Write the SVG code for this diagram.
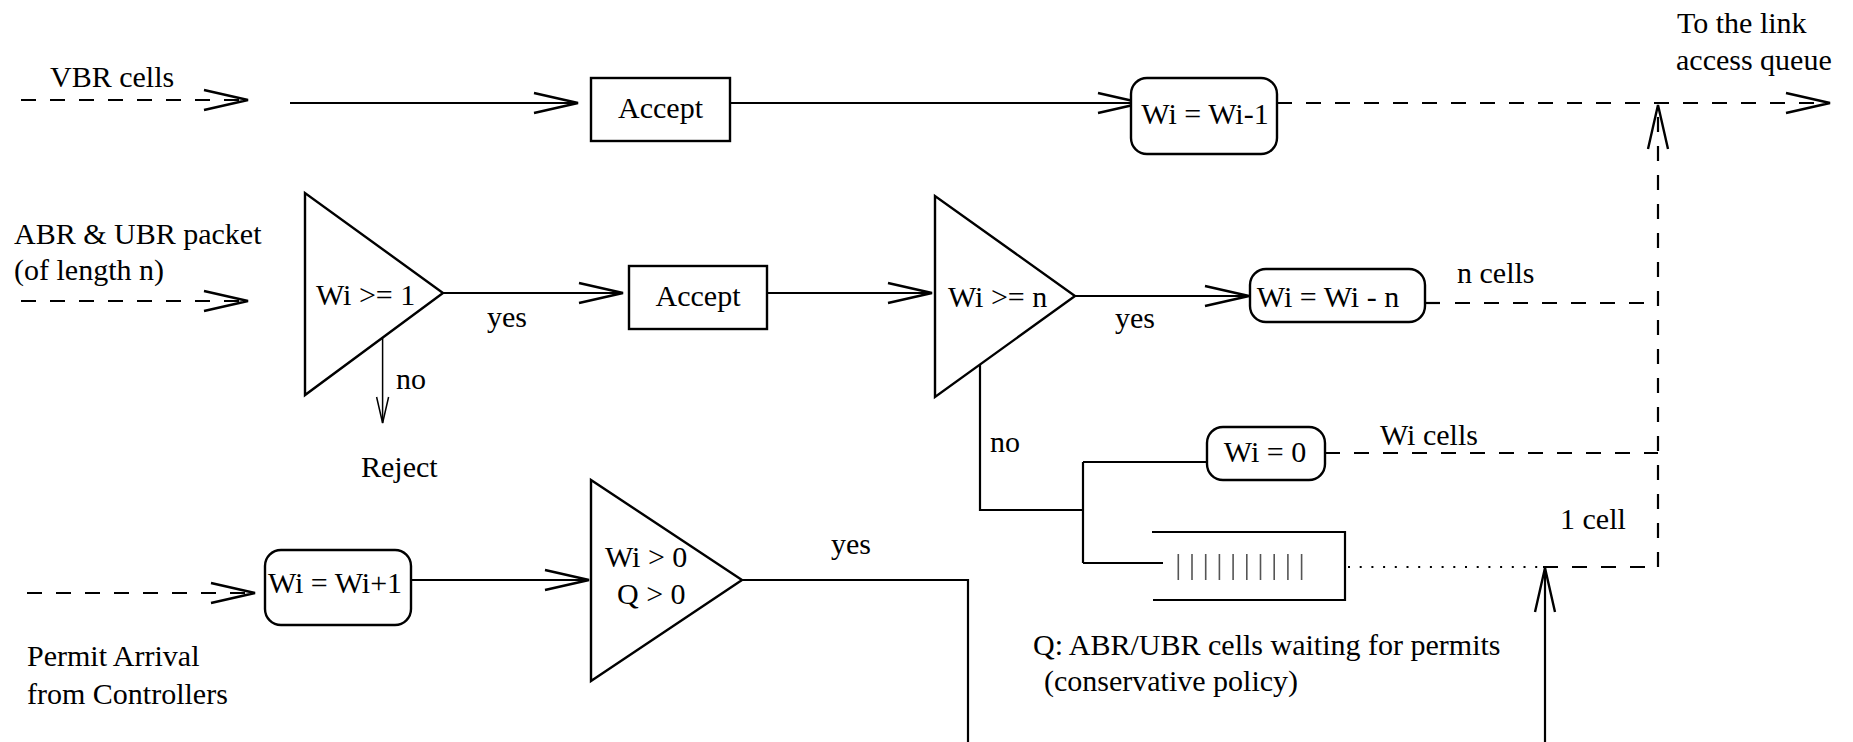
<svg xmlns="http://www.w3.org/2000/svg" width="1853" height="742" viewBox="0 0 1853 742">
<style>
.l{fill:none;stroke:#000;stroke-width:2.2}
.d{stroke-dasharray:15 14}
.dot{stroke-dasharray:2 9.7;stroke-width:2}
.thin{stroke-width:1.5}
.b{fill:#fff;stroke:#000;stroke-width:2.4}
.tk{stroke:#555;stroke-width:1.6}
.t{font-family:"Liberation Serif","Times New Roman",serif;font-size:30px;fill:#000}
.m{text-anchor:middle}
</style>
<defs>
<marker id="ah" markerUnits="userSpaceOnUse" viewBox="0 0 46 22" refX="44" refY="11" markerWidth="46" markerHeight="22" orient="auto" overflow="visible">
<path d="M0,1 L44,11 L0,21" fill="none" stroke="#000" stroke-width="2.4"/>
</marker>
<marker id="as" markerUnits="userSpaceOnUse" viewBox="0 0 28 14" refX="26" refY="7" markerWidth="28" markerHeight="14" orient="auto" overflow="visible">
<path d="M0,1 L26,7 L0,13" fill="none" stroke="#000" stroke-width="1.5"/>
</marker>
</defs>
<rect width="1853" height="742" fill="#fff"/>

<g id="connectors">
<path class="l d" d="M21,100 H248" marker-end="url(#ah)"/>
<path class="l" d="M290,103 H578" marker-end="url(#ah)"/>
<path class="l" d="M730,103 H1142" marker-end="url(#ah)"/>
<path class="l d" d="M1277,103 H1830" marker-end="url(#ah)"/>
<path class="l d" d="M1658,567 V105" marker-end="url(#ah)"/>
<path class="l d" d="M21,301 H248" marker-end="url(#ah)"/>
<path class="l" d="M443,293 H623" marker-end="url(#ah)"/>
<path class="l" d="M767,293 H932" marker-end="url(#ah)"/>
<path class="l" d="M1075,296 H1249" marker-end="url(#ah)"/>
<path class="l" d="M1425,303 H1440"/>
<path class="l d" d="M1455,303 H1658"/>
<path class="l thin" d="M382.6,338 V423" marker-end="url(#as)"/>
<path class="l" d="M980,365 V510 H1083"/>
<path class="l" d="M1083,462 V563"/>
<path class="l" d="M1083,462 H1207"/>
<path class="l" d="M1083,563 H1163"/>
<path class="l d" d="M1325,453 H1658"/>
<path class="l dot" d="M1348,567 H1543"/>
<path class="l d" d="M1543,567 H1658"/>
<path class="l" d="M1545,742 V568" marker-end="url(#ah)"/>
<path class="l d" d="M27,593 H255" marker-end="url(#ah)"/>
<path class="l" d="M411,580 H589" marker-end="url(#ah)"/>
<path class="l" d="M742,580 H968 V742"/>
</g>

<g id="accept1"><rect class="b" x="591" y="78" width="139" height="63"/><text class="t m" x="660.5" y="118">Accept</text></g>
<g id="dec-vbr"><rect class="b" x="1131" y="78" width="146" height="76" rx="16"/><text class="t m" x="1205" y="124">Wi = Wi-1</text></g>
<g id="test-wi1"><polygon class="b" points="305,193 305,395 443,293"/><text class="t" x="316" y="305">Wi &gt;= 1</text></g>
<g id="accept2"><rect class="b" x="629" y="266" width="138" height="63"/><text class="t m" x="698" y="306">Accept</text></g>
<g id="test-win"><polygon class="b" points="935,196 935,397 1075,296"/><text class="t" x="948" y="307">Wi &gt;= n</text></g>
<g id="dec-n"><rect class="b" x="1250" y="269" width="175" height="53" rx="16"/><text class="t m" x="1328" y="307">Wi = Wi - n</text></g>
<g id="zero"><rect class="b" x="1207" y="427" width="118" height="53" rx="16"/><text class="t m" x="1265" y="462">Wi = 0</text></g>
<g id="queue">
<path class="l" d="M1152,532 H1345 V600 H1153"/>
<path class="tk" d="M1178.3,554V580M1192,554V580M1205.7,554V580M1219.4,554V580M1233.1,554V580M1246.8,554V580M1260.5,554V580M1274.2,554V580M1287.9,554V580M1301.6,554V580"/>
</g>
<g id="inc"><rect class="b" x="265" y="550" width="146" height="75" rx="16"/><text class="t m" x="335" y="593">Wi = Wi+1</text></g>
<g id="test-q"><polygon class="b" points="591,480 591,681 742,580"/><text class="t" x="605" y="567">Wi &gt; 0</text><text class="t" x="617" y="604">Q &gt; 0</text></g>

<g id="labels">
<text class="t" x="50" y="87">VBR cells</text>
<text class="t" x="1677" y="33">To the link</text>
<text class="t" x="1676" y="70">access queue</text>
<text class="t" x="14" y="244">ABR &amp; UBR packet</text>
<text class="t" x="14" y="280">(of length n)</text>
<text class="t" x="487" y="327">yes</text>
<text class="t" x="1115" y="328">yes</text>
<text class="t" x="396" y="389">no</text>
<text class="t" x="361" y="477">Reject</text>
<text class="t" x="1457" y="283">n cells</text>
<text class="t" x="990" y="452">no</text>
<text class="t" x="1380" y="445">Wi cells</text>
<text class="t" x="1560" y="529">1 cell</text>
<text class="t" x="1033" y="655">Q: ABR/UBR cells waiting for permits</text>
<text class="t" x="1044" y="691">(conservative policy)</text>
<text class="t" x="831" y="554">yes</text>
<text class="t" x="27" y="666">Permit Arrival</text>
<text class="t" x="27" y="704">from Controllers</text>
</g>
</svg>
